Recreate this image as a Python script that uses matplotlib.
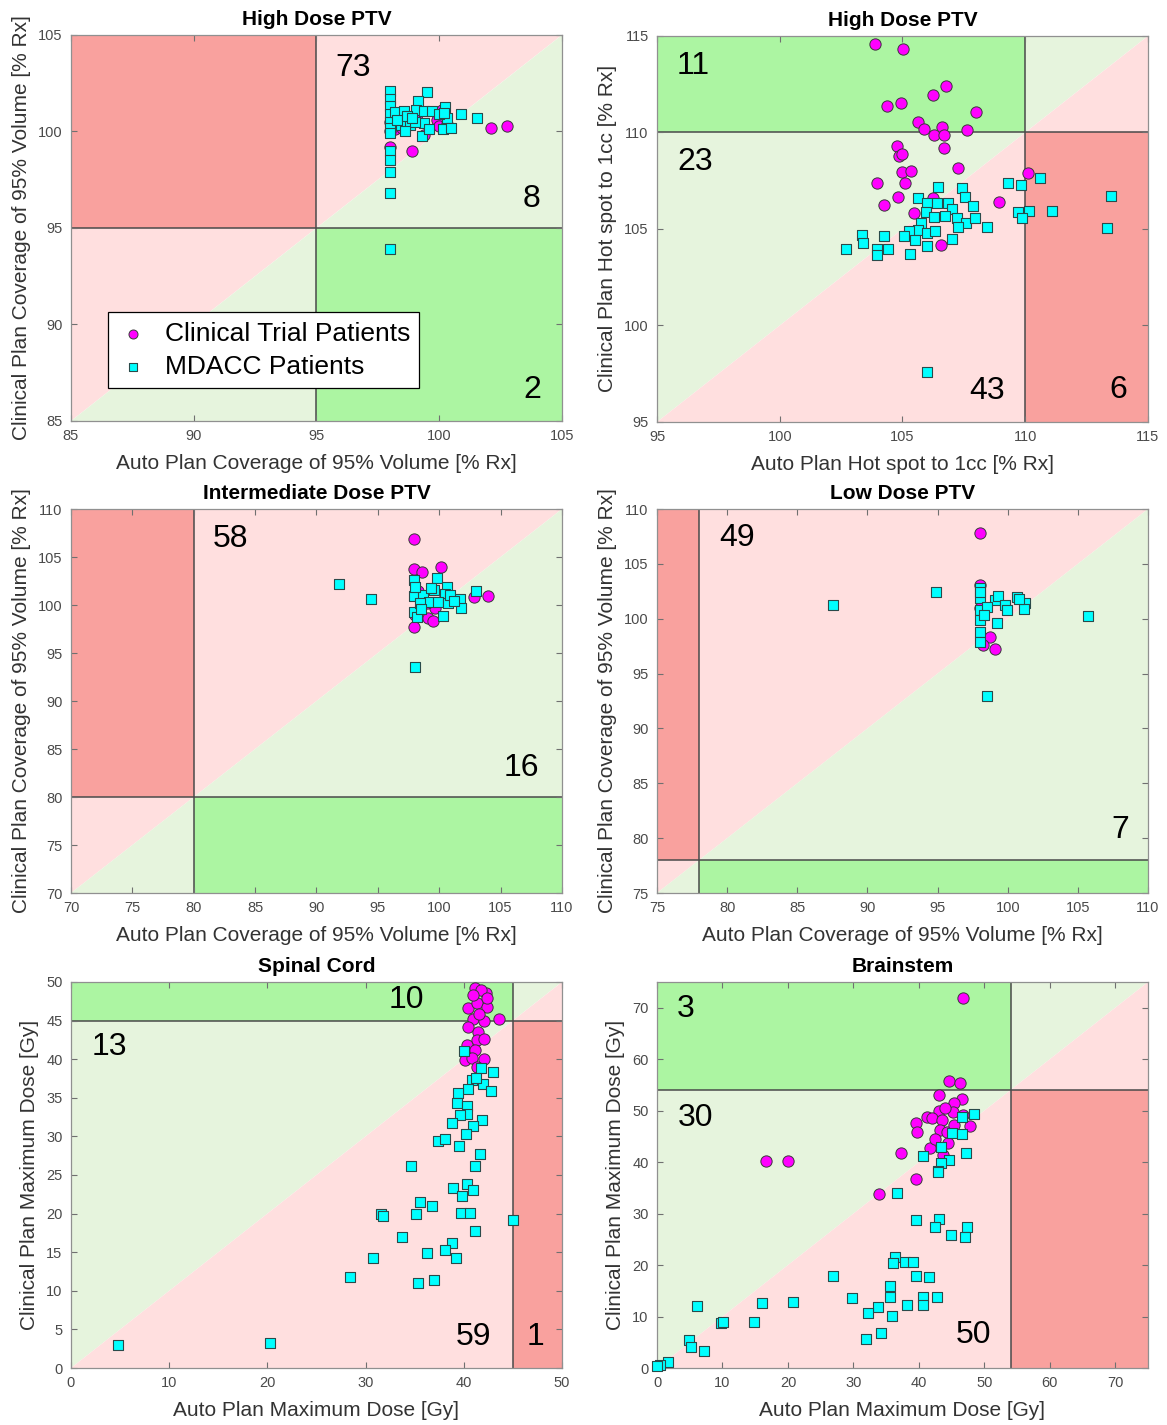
import numpy as np
import matplotlib
matplotlib.use('Agg')
import matplotlib.pyplot as plt

plt.rcParams['font.family'] = ['Liberation Sans', 'DejaVu Sans']

# --- High Dose PTV coverage ---
hd_cov_trial_x = [102.1, 102.75, 98.9, 99.4, 99.9, 100.1, 98.0, 98.0, 98.2, 100.0, 98.5, 99.1, 98.0, 98.3, 100.3]
hd_cov_trial_y = [100.2, 100.3, 99.0, 99.8, 100.6, 101.1, 99.2, 100.5, 100.1, 100.3, 100.2, 100.9, 100.0, 100.8, 100.4]
hd_cov_mdacc_x = [98.0, 98.0, 98.0, 98.0, 98.0, 98.0, 98.0, 98.0, 98.0, 98.0, 98.0, 98.0, 99.5, 99.15, 98.2,
                  98.55, 99.05, 99.4, 99.7, 100.25, 100.3, 100.15, 100.5, 99.3, 100.9, 101.55, 98.45, 98.8,
                  99.4, 98.3, 98.7, 99.0, 99.6, 100.0, 98.6, 98.9, 100.2]
hd_cov_mdacc_y = [102.1, 101.7, 101.3, 100.9, 100.5, 100.2, 99.9, 99.0, 98.5, 97.9, 96.8, 93.9, 102.05, 101.6, 101.0,
                  101.05, 101.1, 101.05, 101.05, 101.25, 100.7, 100.1, 100.2, 99.75, 100.9, 100.7, 100.35, 100.35,
                  100.45, 100.6, 100.8, 100.5, 100.1, 100.9, 100.0, 100.7, 100.95]

# --- High Dose PTV hot spot ---
hd_hot_trial_x = [103.88, 105.03, 106.76, 106.26, 104.36, 104.94, 107.98, 105.62, 105.89, 106.6, 106.3, 106.7,
                  107.61, 104.76, 104.86, 105.0, 106.69, 104.97, 105.35, 105.10, 107.25, 103.97, 104.83, 104.25,
                  105.47, 106.26, 106.56, 110.1, 108.94]
hd_hot_trial_y = [114.57, 114.31, 112.43, 111.94, 111.37, 111.54, 111.08, 110.56, 110.18, 110.3, 109.87, 109.87,
                  110.13, 109.32, 108.78, 108.9, 109.18, 107.94, 108.02, 107.37, 108.15, 107.40, 106.64, 106.26,
                  105.81, 106.59, 104.16, 107.89, 106.41]
hd_hot_mdacc_x = [106.43, 107.44, 107.53, 109.28, 109.84, 110.6, 113.5, 113.34, 109.72, 110.15, 111.1, 109.86,
                  105.65, 106.01, 106.39, 106.87, 107.88, 107.0, 105.96, 106.3, 106.73, 107.21, 107.57, 107.95,
                  108.43, 107.25, 105.74, 105.65, 105.28, 105.06, 105.99, 106.32, 107.0, 105.51, 106.01, 105.31,
                  104.25, 103.34, 103.38, 102.70, 103.97, 104.42, 103.97, 105.99]
hd_hot_mdacc_y = [107.16, 107.11, 106.67, 107.37, 107.28, 107.63, 106.73, 105.05, 105.90, 105.93, 105.93, 105.55,
                  106.59, 106.33, 106.36, 106.33, 106.19, 106.04, 105.90, 105.64, 105.69, 105.55, 105.30, 105.55,
                  105.12, 105.09, 105.33, 104.95, 104.90, 104.65, 104.78, 104.90, 104.48, 104.43, 104.12, 103.69,
                  104.64, 104.69, 104.26, 103.95, 103.95, 103.95, 103.65, 97.61]

# --- Intermediate Dose PTV coverage ---
id_trial_x = [97.97, 97.97, 98.57, 100.14, 104.0, 102.83, 97.97, 99.06, 99.52, 99.65, 98.3, 99.0, 100.5, 98.0]
id_trial_y = [106.88, 103.72, 103.4, 103.93, 100.97, 100.80, 97.74, 98.61, 98.33, 99.65, 101.5, 100.2, 100.8, 99.0]
id_mdacc_x = [91.86, 94.41, 98.02, 102.99, 101.69, 101.75, 100.33, 99.79, 100.6, 99.57, 100.47, 97.97, 97.97,
              97.97, 98.70, 99.16, 99.92, 100.74, 98.43, 98.16, 98.0, 99.3, 100.9, 101.2, 98.5]
id_mdacc_y = [102.15, 100.63, 93.57, 101.46, 100.63, 99.65, 98.85, 102.78, 101.91, 101.56, 101.15, 102.6, 100.94,
              99.31, 101.04, 100.28, 100.34, 100.18, 100.18, 98.78, 101.9, 101.8, 101.0, 100.4, 99.6]

# --- Low Dose PTV coverage ---
ld_trial_x = [98.02, 98.02, 98.73, 99.09, 98.26, 98.0]
ld_trial_y = [107.79, 103.08, 98.31, 97.22, 97.61, 101.0]
ld_mdacc_x = [87.52, 94.89, 105.74, 98.5, 98.02, 98.02, 98.02, 98.02, 98.02, 98.02, 99.09, 99.28, 99.8, 100.64,
              101.23, 101.16, 99.93, 99.26, 98.5, 98.02, 98.3, 100.8]
ld_mdacc_y = [101.25, 102.41, 100.25, 92.99, 102.78, 101.86, 100.80, 99.89, 98.82, 97.91, 101.71, 102.07, 101.25,
              101.95, 101.41, 100.86, 100.80, 99.64, 101.10, 102.4, 100.3, 101.8]

# --- Spinal cord max dose ---
sc_trial_x = [41.14, 42.26, 40.46, 41.31, 42.33, 43.62, 40.97, 42.06, 40.46, 41.48, 41.31, 42.06, 40.29, 41.14,
              42.06, 40.12, 40.8, 41.31, 41.8, 42.4, 40.9, 41.6]
sc_trial_y = [49.18, 48.62, 46.59, 47.24, 46.80, 45.17, 45.17, 44.99, 44.21, 43.56, 42.49, 42.58, 41.84, 41.19,
              40.03, 39.90, 40.12, 38.95, 49.0, 47.9, 48.3, 45.9]
sc_mdacc_x = [40.05, 41.75, 43.0, 40.87, 40.46, 41.92, 42.74, 39.38, 39.28, 40.29, 40.36, 39.61, 38.77, 41.82,
              40.97, 37.40, 38.09, 40.19, 39.54, 41.65, 41.14, 34.62, 38.87, 40.29, 40.9, 39.78, 35.54, 36.73,
              31.57, 31.8, 35.10, 39.71, 40.63, 45.04, 41.14, 33.67, 38.77, 38.09, 36.29, 39.21, 30.79, 28.41,
              35.37, 37.0, 20.26, 4.79, 41.3]
sc_mdacc_y = [41.10, 38.90, 38.38, 37.31, 36.14, 36.79, 35.88, 35.58, 34.29, 33.94, 32.86, 32.77, 31.70, 32.12,
              31.39, 29.44, 29.62, 30.27, 28.76, 27.68, 26.21, 26.21, 23.28, 23.83, 23.06, 22.28, 21.46, 21.02,
              19.91, 19.7, 19.91, 20.12, 20.04, 19.17, 17.79, 16.93, 16.15, 15.28, 14.86, 14.21, 14.21, 11.83,
              10.97, 11.40, 3.2, 2.98, 37.5]

# --- Brainstem max dose ---
bs_trial_x = [46.79, 44.65, 46.28, 43.07, 46.54, 45.36, 43.07, 41.29, 42.0, 43.58, 45.26, 46.79, 39.51, 39.66,
              43.23, 44.25, 47.81, 45.4, 44.5, 41.7, 37.27, 43.73, 39.56, 33.91, 16.6, 20.0, 44.0, 42.5]
bs_trial_y = [71.95, 55.76, 55.31, 53.04, 52.2, 51.43, 49.93, 48.83, 48.5, 48.18, 49.80, 49.16, 47.66, 45.91,
              46.24, 45.91, 47.02, 47.3, 43.78, 42.68, 41.71, 41.38, 36.66, 33.81, 40.2, 40.2, 50.5, 44.5]
bs_mdacc_x = [46.54, 48.47, 45.01, 46.64, 43.38, 40.68, 47.15, 44.65, 43.33, 42.87, 36.71, 42.97, 39.51, 43.02,
              42.46, 44.91, 47.3, 47.04, 36.35, 36.0, 37.88, 39.15, 39.51, 41.55, 26.83, 35.59, 35.59, 29.74,
              40.68, 42.72, 33.81, 32.18, 38.14, 40.68, 35.94, 34.21, 31.87, 15.99, 20.73, 14.87, 9.78, 10.1,
              6.06, 4.89, 5.19, 7.23, 1.73, 0.46, 0.0]
bs_mdacc_y = [48.83, 49.29, 45.60, 45.46, 42.99, 41.19, 41.71, 40.41, 39.77, 38.27, 33.94, 38.14, 28.75, 28.89,
              27.34, 25.84, 27.34, 25.51, 21.62, 20.34, 20.66, 20.66, 17.94, 17.62, 17.87, 15.99, 13.73, 13.66,
              13.86, 13.73, 11.79, 10.75, 12.24, 12.24, 10.10, 6.74, 5.57, 12.57, 12.76, 8.88, 8.68, 8.9,
              12.11, 5.44, 4.14, 3.30, 1.22, 0.58, 0.3]

# axis range, pass/fail threshold, tick step
titles = ['High Dose PTV', 'High Dose PTV', 'Intermediate Dose PTV', 'Low Dose PTV', 'Spinal Cord', 'Brainstem']
limits = [(85, 105), (95, 115), (70, 110), (75, 110), (0, 50), (0, 75)]
thresholds = [95, 110, 80, 78, 45, 54]
xsteps = [5, 5, 5, 5, 10, 10]
ysteps = [5, 5, 5, 5, 5, 10]
higher_better = [True, False, True, True, False, False]
cov_x = 'Auto Plan Coverage of 95% Volume [% Rx]'
cov_y = 'Clinical Plan Coverage of 95% Volume [% Rx]'
xlabels = [cov_x, 'Auto Plan Hot spot to 1cc [% Rx]', cov_x, cov_x,
           'Auto Plan Maximum Dose [Gy]', 'Auto Plan Maximum Dose [Gy]']
ylabels = [cov_y, 'Clinical Plan Hot spot to 1cc [% Rx]', cov_y, cov_y,
           'Clinical Plan Maximum Dose [Gy]', 'Clinical Plan Maximum Dose [Gy]']
counts = [['73', '8', '2'], ['11', '23', '43', '6'], ['58', '16'], ['49', '7'],
          ['10', '13', '59', '1'], ['3', '30', '50']]
count_pos = [[(0.574, 0.915), (0.939, 0.575), (0.939, 0.080)],
             [(0.073, 0.922), (0.077, 0.674), (0.672, 0.080), (0.939, 0.083)],
             [(0.324, 0.922), (0.918, 0.326)],
             [(0.163, 0.924), (0.943, 0.164)],
             [(0.684, 0.953), (0.079, 0.832), (0.819, 0.080), (0.947, 0.080)],
             [(0.059, 0.930), (0.079, 0.648), (0.644, 0.085)]]
trial = [(hd_cov_trial_x, hd_cov_trial_y), (hd_hot_trial_x, hd_hot_trial_y), (id_trial_x, id_trial_y),
         (ld_trial_x, ld_trial_y), (sc_trial_x, sc_trial_y), (bs_trial_x, bs_trial_y)]
mdacc = [(hd_cov_mdacc_x, hd_cov_mdacc_y), (hd_hot_mdacc_x, hd_hot_mdacc_y), (id_mdacc_x, id_mdacc_y),
         (ld_mdacc_x, ld_mdacc_y), (sc_mdacc_x, sc_mdacc_y), (bs_mdacc_x, bs_mdacc_y)]

RED = '#f9a19e'
PINK = '#ffdfdf'
LGREEN = '#e6f4dd'
GREEN = '#acf5a2'

# axes boxes in figure fraction (left, bottom, width, height)
boxes = [(0.0608, 0.7046, 0.4207, 0.2709), (0.5630, 0.7039, 0.4207, 0.2709),
         (0.0608, 0.3733, 0.4207, 0.2695), (0.5630, 0.3733, 0.4207, 0.2695),
         (0.0608, 0.0400, 0.4207, 0.2709), (0.5630, 0.0400, 0.4207, 0.2709)]

fig = plt.figure(figsize=(11.67, 14.25), dpi=100)

for i in range(6):
    ax = fig.add_axes(boxes[i])
    lo, hi = limits[i]
    t = thresholds[i]
    if higher_better[i]:
        above, below, ul, lr = PINK, LGREEN, RED, GREEN
    else:
        above, below, ul, lr = LGREEN, PINK, GREEN, RED
    ax.fill([lo, hi, lo], [lo, hi, hi], color=above, lw=0, zorder=0)
    ax.fill([lo, hi, hi], [lo, lo, hi], color=below, lw=0, zorder=0)
    ax.fill([lo, t, t, lo], [t, t, hi, hi], color=ul, lw=0, zorder=0)
    ax.fill([t, hi, hi, t], [lo, lo, t, t], color=lr, lw=0, zorder=0)
    ax.axvline(t, color='#4a4a4a', lw=1.1, zorder=1)
    ax.axhline(t, color='#4a4a4a', lw=1.1, zorder=1)

    ax.scatter(trial[i][0], trial[i][1], s=66, marker='o', c='#ff00ff', edgecolors='#3a3a3a',
               linewidths=0.7, zorder=3, clip_on=False, label='Clinical Trial Patients')
    ax.scatter(mdacc[i][0], mdacc[i][1], s=44, marker='s', c='#00ffff', edgecolors='#2a4a4a',
               linewidths=0.8, zorder=4, clip_on=False, label='MDACC Patients')

    for txt, (px, py) in zip(counts[i], count_pos[i]):
        ax.text(px, py, txt, transform=ax.transAxes, fontsize=23, ha='center', va='center', zorder=5)

    ax.set_xlim(lo, hi)
    ax.set_ylim(lo, hi)
    ax.set_xticks(np.arange(lo, hi + 0.1, xsteps[i]))
    ax.set_yticks(np.arange(lo, hi + 0.1, ysteps[i]))
    ax.tick_params(direction='in', top=True, right=True, length=4, width=0.8,
                   color='#707070', labelsize=10.5, labelcolor='#4a4a4a', pad=6)
    for sp in ax.spines.values():
        sp.set_color('#909090')
        sp.set_linewidth(0.9)
    ax.set_title(titles[i], fontsize=15, fontweight='bold', pad=7)
    ax.set_xlabel(xlabels[i], fontsize=15, color='#333333', labelpad=8)
    ax.set_ylabel(ylabels[i], fontsize=15, color='#333333', labelpad=5)

    if i == 0:
        leg = ax.legend(loc='lower left', bbox_to_anchor=(0.075, 0.085), borderaxespad=0,
                        fancybox=False, edgecolor='black', framealpha=1, fontsize=19,
                        handlelength=1.2, handletextpad=0.6, borderpad=0.35, labelspacing=0.35,
                        markerscale=0.8)
        leg.get_frame().set_linewidth(0.9)
        leg.set_zorder(6)

fig.savefig('out.png', dpi=100)
